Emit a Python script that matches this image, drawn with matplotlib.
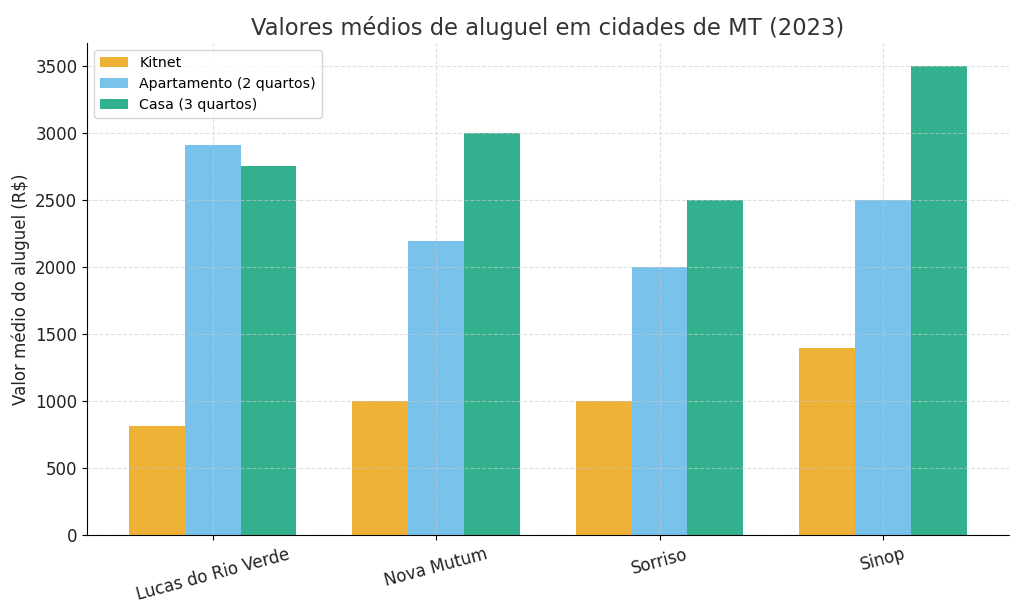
import matplotlib.pyplot as plt
import numpy as np

cidades = ["Lucas do Rio Verde", "Nova Mutum", "Sorriso", "Sinop"]
kitnet = [820, 1000, 1000, 1400]
apartamento = [2910, 2200, 2000, 2500]
casa = [2760, 3000, 2500, 3500]

x = np.arange(len(cidades))
w = 0.25

fig, ax = plt.subplots(figsize=(10.24, 6.14), dpi=100)

ax.bar(x - w, kitnet, w, color='#EDB236', label='Kitnet')
ax.bar(x, apartamento, w, color='#79C2EC', label='Apartamento (2 quartos)')
ax.bar(x + w, casa, w, color='#33B08D', label='Casa (3 quartos)')

ax.set_title('Valores médios de aluguel em cidades de MT (2023)', fontsize=16.3, color='#333333')
ax.set_ylabel('Valor médio do aluguel (R$)', fontsize=12, color='#222222')
ax.set_xticks(x)
ax.set_xticklabels(cidades, rotation=15, fontsize=12, color='#222222')
ax.tick_params(axis='y', labelsize=12, labelcolor='#222222')

ax.set_axisbelow(False)
ax.grid(True, linestyle='--', color='#cccccc', alpha=0.6, linewidth=0.8)
ax.spines['top'].set_visible(False)
ax.spines['right'].set_visible(False)

ax.legend(loc='upper left', fontsize=10.2)

fig.subplots_adjust(left=0.085, right=0.985, top=0.93, bottom=0.128)
plt.savefig('out.png')
